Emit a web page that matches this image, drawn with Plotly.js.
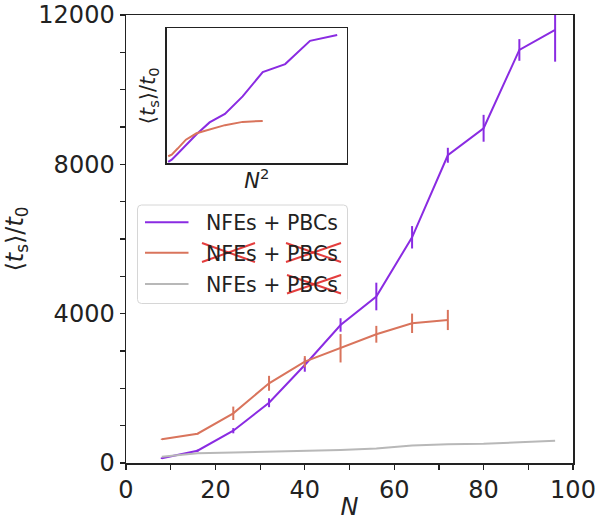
<!DOCTYPE html>
<html>
<head>
<meta charset="utf-8">
<script src="https://cdn.plot.ly/plotly-3.0.1.min.js"></script>
<style>html,body{margin:0;padding:0;background:#fff;}#chart{width:597px;height:521px;}</style>
</head>
<body>
<div id="chart"></div>
<script>
// ---- data ----
const nPurple = [8, 16, 24, 32, 40, 48, 56, 64, 72, 80, 88, 96];
const tPurple = [126, 330, 865, 1615, 2625, 3697, 4460, 6046, 8243, 8966, 11064, 11600];
const ePurple = [20, 30, 70, 120, 180, 180, 370, 300, 200, 360, 290, 850];

const nOrange = [8, 16, 24, 32, 40, 48, 56, 64, 72];
const tOrange = [635, 785, 1331, 2135, 2714, 3073, 3448, 3742, 3831];
const eOrange = [15, 20, 180, 200, 150, 380, 225, 260, 270];

const nGray = [8, 16, 24, 32, 40, 48, 56, 64, 72, 80, 88, 96];
const tGray = [170, 260, 280, 300, 330, 350, 390, 470, 505, 515, 555, 595];

const xTickVals = [0, 10, 20, 30, 40, 50, 60, 70, 80, 90, 100];
const xTickText = ['0', '', '20', '', '40', '', '60', '', '80', '', '100'];
const yTickVals = [0, 1000, 2000, 3000, 4000, 5000, 6000, 7000, 8000, 9000, 10000, 11000, 12000];
const yTickText = ['0', '', '', '', '4000', '', '', '', '8000', '', '', '', '12000'];

const legendLabels = ['NFEs + PBCs', 'NFEs + PBCs', 'NFEs + PBCs'];

// ---- styles ----
const cPurple = '#8a2be2';
const cOrange = '#d9745c';
const cGray = '#b8b8b8';
const FONT = 'DejaVu Sans, sans-serif';

const W = 597, H = 521;
const mL = 126, mR = 24, mT = 15, mB = 58;
const pw = W - mL - mR, ph = H - mT - mB;
const px = x => (x - mL) / pw;
const py = y => (H - mB - y) / ph;

const sq = a => a.map(v => v * v);

const traces = [
  {x: nPurple, y: tPurple, type: 'scatter', mode: 'lines', line: {color: cPurple, width: 2},
   error_y: {type: 'data', array: ePurple, visible: true, color: cPurple, thickness: 2, width: 0},
   xaxis: 'x', yaxis: 'y', showlegend: false},
  {x: nOrange, y: tOrange, type: 'scatter', mode: 'lines', line: {color: cOrange, width: 2},
   error_y: {type: 'data', array: eOrange, visible: true, color: cOrange, thickness: 2, width: 0},
   xaxis: 'x', yaxis: 'y', showlegend: false},
  {x: nGray, y: tGray, type: 'scatter', mode: 'lines', line: {color: cGray, width: 2},
   xaxis: 'x', yaxis: 'y', showlegend: false},
  {x: sq(nPurple), y: tPurple, type: 'scatter', mode: 'lines', line: {color: cPurple, width: 2},
   xaxis: 'x2', yaxis: 'y2', showlegend: false},
  {x: sq(nOrange), y: tOrange, type: 'scatter', mode: 'lines', line: {color: cOrange, width: 2},
   xaxis: 'x2', yaxis: 'y2', showlegend: false}
];

// legend drawn by hand
const legX0 = 137.5, legX1 = 347.5, legY0 = 205, legY1 = 303.5;
const rowY = [222.3, 252.7, 284];
const lineX0 = 145, lineX1 = 188.5, textX = 205;
const legColors = [cPurple, cOrange, cGray];

const shapes = [];
const annotations = [];
// legend box with rounded corners
(function () {
  const r = 4;
  const rx = r / pw, ry = r / ph;
  const x0 = px(legX0), x1 = px(legX1), yt = py(legY0), yb = py(legY1);
  const path = `M ${x0 + rx},${yt} L ${x1 - rx},${yt} Q ${x1},${yt} ${x1},${yt - ry} L ${x1},${yb + ry} Q ${x1},${yb} ${x1 - rx},${yb} L ${x0 + rx},${yb} Q ${x0},${yb} ${x0},${yb + ry} L ${x0},${yt - ry} Q ${x0},${yt} ${x0 + rx},${yt} Z`;
  shapes.push({type: 'path', xref: 'paper', yref: 'paper', path: path,
    line: {color: '#d6d6d6', width: 1}, fillcolor: 'rgba(255,255,255,0.85)', layer: 'above'});
})();
rowY.forEach((y, i) => {
  shapes.push({type: 'line', xref: 'paper', yref: 'paper', x0: px(lineX0), x1: px(lineX1), y0: py(y), y1: py(y),
    line: {color: legColors[i], width: 2}, layer: 'above'});
  annotations.push({xref: 'paper', yref: 'paper', x: px(textX - 1), y: py(y + 1), xanchor: 'left', yanchor: 'middle',
    text: legendLabels[i], showarrow: false, font: {family: FONT, size: 20.5, color: '#222'}});
});
// red crosses over struck-out words
const crosses = [
  [202, 243, 255, 262],
  [286, 243, 341, 262],
  [287, 275, 341, 293.5]
];
crosses.forEach(c => {
  const [x0, y0, x1, y1] = c;
  shapes.push({type: 'line', xref: 'paper', yref: 'paper', x0: px(x0), y0: py(y0), x1: px(x1), y1: py(y1),
    line: {color: 'rgba(225,40,40,0.9)', width: 2}, layer: 'above'});
  shapes.push({type: 'line', xref: 'paper', yref: 'paper', x0: px(x0), y0: py(y1), x1: px(x1), y1: py(y0),
    line: {color: 'rgba(225,40,40,0.9)', width: 2}, layer: 'above'});
});

const ylab = '⟨<i>t</i><sub>s</sub>⟩/<i>t</i><sub>0</sub>';

const layout = {
  width: W, height: H,
  margin: {l: mL, r: mR, t: mT, b: mB, pad: 0},
  paper_bgcolor: '#fff', plot_bgcolor: '#fff',
  font: {family: FONT, color: '#222'},
  showlegend: false,
  xaxis: {
    domain: [0, 1], range: [0, 100], tickvals: xTickVals, ticktext: xTickText,
    ticks: 'outside', ticklen: 5, tickwidth: 1.2, tickcolor: '#222',
    showline: true, mirror: true, linecolor: '#222', linewidth: 1.5,
    showgrid: false, zeroline: false, tickfont: {size: 24, family: FONT, color: '#222'},
    title: {text: '<i>N</i>', font: {size: 24, family: FONT, color: '#222'}, standoff: 6}
  },
  yaxis: {
    domain: [0, 1], range: [0, 12000], tickvals: yTickVals, ticktext: yTickText,
    ticks: 'outside', ticklen: 5, tickwidth: 1.2, tickcolor: '#222',
    showline: true, mirror: true, linecolor: '#222', linewidth: 1.5,
    showgrid: false, zeroline: false, tickfont: {size: 24, family: FONT, color: '#222'},
    title: {text: ylab, font: {size: 24, family: FONT, color: '#222'}, standoff: 8}
  },
  xaxis2: {
    domain: [px(167), px(346.5)], range: [0, 9720], anchor: 'y2',
    showticklabels: false, ticks: '', showgrid: false, zeroline: false,
    showline: true, mirror: true, linecolor: '#222', linewidth: 1.8,
    title: {text: '<i>N</i><sup>2</sup>', font: {size: 21, family: FONT, color: '#222'}, standoff: 9}
  },
  yaxis2: {
    domain: [py(163.3), py(28.3)], range: [0, 12200], anchor: 'x2',
    showticklabels: false, ticks: '', showgrid: false, zeroline: false,
    showline: true, mirror: true, linecolor: '#222', linewidth: 1.8,
    title: {text: ylab, font: {size: 21, family: FONT, color: '#222'}, standoff: 4}
  },
  shapes: shapes,
  annotations: annotations
};

Plotly.newPlot('chart', traces, layout, {displayModeBar: false, staticPlot: true});
</script>
</body>
</html>
